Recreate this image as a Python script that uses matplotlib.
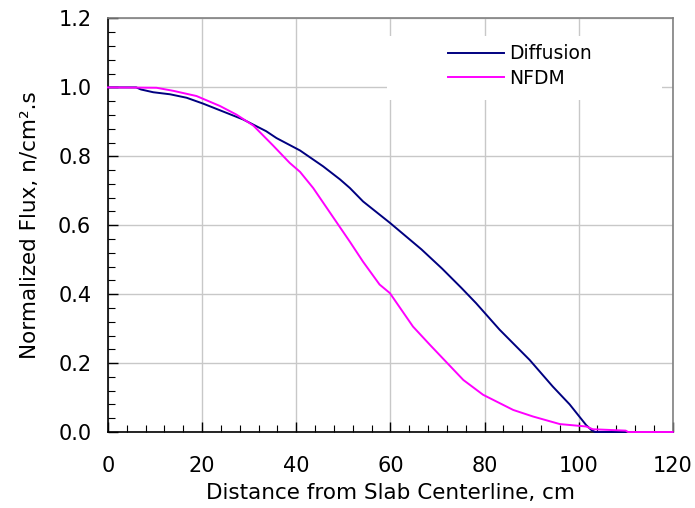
#!/usr/bin/env python3
"""Normalized flux vs distance from slab centerline: diffusion vs NFDM."""

import matplotlib
matplotlib.use("Agg")
import matplotlib.pyplot as plt
from matplotlib.patches import Rectangle
from matplotlib.ticker import MultipleLocator

plt.rcParams["font.family"] = ["DejaVu Sans"]

# Diffusion solution
diff_x = [0, 6, 7, 9.6, 13.2, 16.7, 20.2, 25.2, 28.7, 33.6, 35.8, 40.8,
          45.7, 49.3, 51.4, 54.2, 59.9, 66.6, 71.0, 75.1, 78.2, 83.2,
          89.6, 94.5, 98.1, 101.6, 102.7, 103.5, 110]
diff_y = [1.0, 1.0, 0.994, 0.986, 0.98, 0.97, 0.953, 0.926, 0.907, 0.873,
          0.853, 0.817, 0.771, 0.733, 0.708, 0.669, 0.607, 0.53, 0.474,
          0.418, 0.374, 0.297, 0.209, 0.132, 0.08, 0.02, 0.006, 0.0, 0.0]

# NFDM solution
nfdm_x = [0, 10.3, 13.9, 18.8, 23.8, 27.3, 30.9, 35.1, 38.6, 40.8, 43.6,
          48.9, 51.4, 54.2, 57.7, 59.9, 64.8, 68.4, 75.5, 79.7, 86.1, 90.3,
          96, 101.6, 103, 110, 110.5, 120]
nfdm_y = [1.0, 0.999, 0.99, 0.975, 0.946, 0.921, 0.889, 0.831, 0.781, 0.755,
          0.708, 0.602, 0.552, 0.494, 0.428, 0.403, 0.306, 0.253, 0.151, 0.108,
          0.064, 0.045, 0.023, 0.016, 0.008, 0.004, 0.0, 0.0]

fig = plt.figure(figsize=(6.95, 5.08), dpi=100)
ax = fig.add_axes([0.1554, 0.1496, 0.8126, 0.814])
ax.set_axisbelow(True)

ax.plot(diff_x, diff_y, color="#000080", lw=1.4, label="Diffusion",
        zorder=3, clip_on=False)
ax.plot(nfdm_x, nfdm_y, color="#ff00ff", lw=1.4, label="NFDM",
        zorder=4, clip_on=False)

ax.set_xlim(0, 120)
ax.set_ylim(0, 1.2)
ax.xaxis.set_major_locator(MultipleLocator(20))
ax.xaxis.set_minor_locator(MultipleLocator(4))
ax.yaxis.set_major_locator(MultipleLocator(0.2))
ax.yaxis.set_minor_locator(MultipleLocator(0.04))
ax.yaxis.set_major_formatter(plt.FuncFormatter(lambda v, _: f"{v:.1f}"))

ax.grid(True, which="major", color="#c8c8c8", lw=1.0)
ax.tick_params(which="both", direction="in", labelsize=15, color="black",
               top=False, right=False)
ax.tick_params(which="major", length=7, width=1.0)
ax.tick_params(which="minor", length=5, width=0.8)
ax.tick_params(axis="x", which="major", pad=17)
ax.tick_params(axis="y", which="major", pad=12)

for side in ("left", "bottom"):
    ax.spines[side].set_color("black")
    ax.spines[side].set_linewidth(1.2)
for side in ("top", "right"):
    ax.spines[side].set_color("#808080")
    ax.spines[side].set_linewidth(1.2)

ax.set_xlabel("Distance from Slab Centerline, cm", fontsize=15.5, labelpad=5)
ax.set_ylabel("Normalized Flux, n/cm².s", fontsize=15.5, labelpad=13)

# white panel behind the legend, cutting the gridlines like the original
ax.add_patch(Rectangle((0.494, 0.803), 0.487, 0.155, transform=ax.transAxes,
                       facecolor="white", edgecolor="none", zorder=1))

ax.legend(loc="upper left", bbox_to_anchor=(0.602, 0.938), fontsize=13.5,
          frameon=False, handlelength=3.0, handletextpad=0.25,
          labelspacing=0.3, borderpad=0, borderaxespad=0)

fig.savefig("out.png", dpi=100)
